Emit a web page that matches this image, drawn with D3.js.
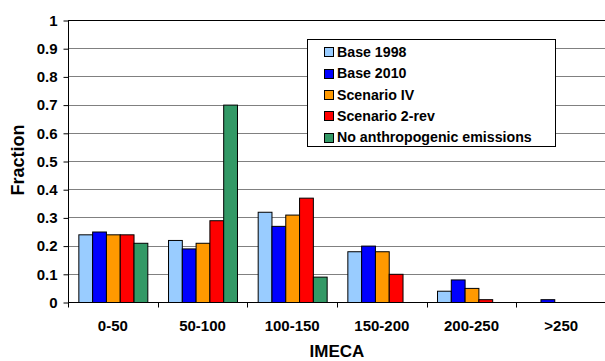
<!DOCTYPE html>
<html><head><meta charset="utf-8">
<script src="https://cdn.jsdelivr.net/npm/d3@7"></script>
<style>body{margin:0;background:#fff}svg{display:block;font-family:"Liberation Sans",Arial,sans-serif;font-weight:bold}</style>
</head><body><svg id="c" width="605" height="361"></svg>
<script>
const categories = ["0-50","50-100","100-150","150-200","200-250",">250"];
const seriesNames = ["Base 1998","Base 2010","Scenario IV","Scenario 2-rev","No anthropogenic emissions"];
const seriesColors = ["#99CCFF","#0000FF","#FF9900","#FF0000","#339966"];
const base1998 = [0.24,0.22,0.32,0.18,0.04,0];
const base2010 = [0.25,0.19,0.27,0.20,0.08,0.01];
const scenarioIV = [0.24,0.21,0.31,0.18,0.05,0];
const scenario2rev = [0.24,0.29,0.37,0.10,0.01,0];
const noAnthro = [0.21,0.70,0.09,0,0,0];
const yTicks = [0,0.1,0.2,0.3,0.4,0.5,0.6,0.7,0.8,0.9,1];
const yTickLabels = ["0","0.1","0.2","0.3","0.4","0.5","0.6","0.7","0.8","0.9","1"];
const seriesValues = [base1998,base2010,scenarioIV,scenario2rev,noAnthro];

const svg = d3.select("#c");
const FF = "'Liberation Sans',Arial,sans-serif";
const L=68, R=606, T=20, B=302;
const x = d3.scaleBand().domain(categories).range([L,R]).paddingInner(0).paddingOuter(0);
const y = d3.scaleLinear().domain([0,1]).range([B,T]);
const band = x.bandwidth();
const bw = band/6.5;
const xs = d3.scaleBand().domain(seriesNames).range([bw*0.75, band-bw*0.75]).padding(0);

// gridlines
svg.append("g").selectAll("line").data(yTicks.filter(d=>d>0)).join("line")
  .attr("x1",L).attr("x2",R).attr("y1",d=>Math.round(y(d))+0.5).attr("y2",d=>Math.round(y(d))+0.5)
  .attr("stroke",d=>d===1?"#000":"#808080").attr("stroke-width",1);

// bars
const g = svg.append("g");
seriesValues.forEach((vals,si)=>{
  g.append("g").selectAll("rect").data(vals.map((v,i)=>({c:categories[i],v}))).join("rect")
    .filter(d=>d.v>0)
    .attr("x",d=>x(d.c)+xs(seriesNames[si])+0.5)
    .attr("width",xs.bandwidth())
    .attr("y",d=>y(d.v)+0.5)
    .attr("height",d=>y(0)-y(d.v))
    .attr("fill",seriesColors[si]).attr("stroke","#000").attr("stroke-width",1);
});

// y axis
const ya = d3.axisLeft(y).tickValues(yTicks).tickFormat((d,i)=>yTickLabels[i]).tickSize(5).tickPadding(6);
const yg = svg.append("g").attr("transform",`translate(${L+0.5},0.5)`).call(ya);
yg.select(".domain").attr("stroke","#000").attr("d",`M0,${T}V${B}`);
yg.selectAll("text").attr("font-size",15).attr("font-weight","bold").attr("font-family",FF).attr("fill","#000");

// x axis
const xa = d3.axisBottom(x).tickSize(0).tickPadding(18);
const xg = svg.append("g").attr("transform",`translate(0,${B+0.5})`).call(xa);
xg.select(".domain").attr("stroke","#000").attr("d",`M${L},0H${R}`);
xg.selectAll("text").attr("font-size",15).attr("font-weight","bold").attr("font-family",FF).attr("fill","#000");
xg.append("g").selectAll("line").data(categories).join("line")
  .attr("x1",d=>Math.round(x(d))+0.5).attr("x2",d=>Math.round(x(d))+0.5).attr("y1",0).attr("y2",5).attr("stroke","#000");

// axis titles
svg.append("text").attr("x",(L+R)/2).attr("y",357).attr("text-anchor","middle").attr("font-size",17).text("IMECA");
svg.append("text").attr("transform","translate(24,160) rotate(-90)").attr("text-anchor","middle").attr("font-size",18).text("Fraction");

// legend
const lg = svg.append("g");
lg.append("rect").attr("x",307.5).attr("y",39.5).attr("width",248).attr("height",107).attr("fill","#fff").attr("stroke","#000");
seriesNames.forEach((n,i)=>{
  const cy = 51.7 + i*21.4;
  lg.append("rect").attr("x",324.5).attr("y",Math.round(cy-4.5)+0.5).attr("width",9).attr("height",9).attr("fill",seriesColors[i]).attr("stroke","#000");
  lg.append("text").attr("x",337).attr("y",cy+5).attr("font-size",14.2).text(n);
});
</script></body></html>
